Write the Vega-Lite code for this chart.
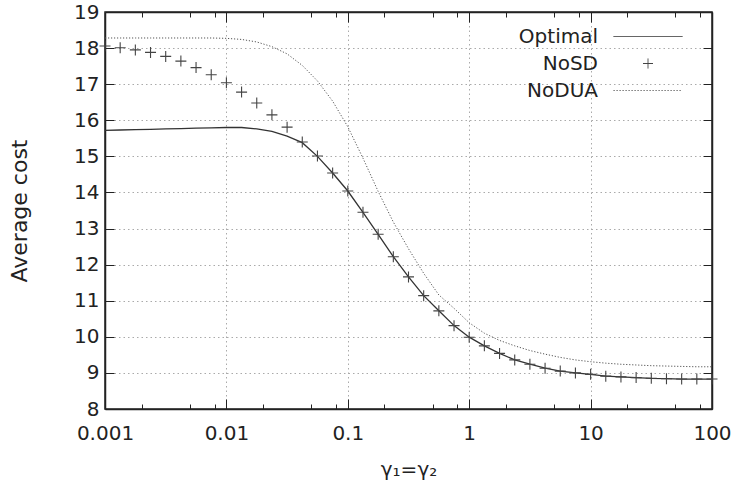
{
  "$schema": "https://vega.github.io/schema/vega-lite/v6.json",
  "width": 607,
  "height": 397,
  "autosize": "none",
  "padding": {"left": 105, "top": 12, "right": 26, "bottom": 82},
  "background": "white",
  "config": {"view": {"stroke": "#222", "strokeWidth": 1.5}, "font": "DejaVu Sans"},
  "datasets": {
    "curves": [
      {"x":0.001,"s":"Optimal","y":15.72},{"x":0.0013335,"s":"Optimal","y":15.73},{"x":0.0017783,"s":"Optimal","y":15.74},{"x":0.0023714,"s":"Optimal","y":15.75},{"x":0.0031623,"s":"Optimal","y":15.76},{"x":0.004217,"s":"Optimal","y":15.77},{"x":0.0056234,"s":"Optimal","y":15.78},{"x":0.0074989,"s":"Optimal","y":15.79},{"x":0.01,"s":"Optimal","y":15.8},{"x":0.013335,"s":"Optimal","y":15.8},{"x":0.017783,"s":"Optimal","y":15.76},{"x":0.023714,"s":"Optimal","y":15.69},{"x":0.031623,"s":"Optimal","y":15.56},{"x":0.04217,"s":"Optimal","y":15.38},{"x":0.056234,"s":"Optimal","y":15.0},{"x":0.074989,"s":"Optimal","y":14.54},{"x":0.1,"s":"Optimal","y":14.04},{"x":0.13335,"s":"Optimal","y":13.45},{"x":0.17783,"s":"Optimal","y":12.84},{"x":0.23714,"s":"Optimal","y":12.22},{"x":0.31623,"s":"Optimal","y":11.66},{"x":0.4217,"s":"Optimal","y":11.14},{"x":0.56234,"s":"Optimal","y":10.72},{"x":0.74989,"s":"Optimal","y":10.31},{"x":1,"s":"Optimal","y":9.99},{"x":1.3335,"s":"Optimal","y":9.75},{"x":1.7783,"s":"Optimal","y":9.54},{"x":2.3714,"s":"Optimal","y":9.36},{"x":3.1623,"s":"Optimal","y":9.24},{"x":4.217,"s":"Optimal","y":9.13},{"x":5.6234,"s":"Optimal","y":9.05},{"x":7.4989,"s":"Optimal","y":9.0},{"x":10,"s":"Optimal","y":8.96},{"x":13.335,"s":"Optimal","y":8.91},{"x":17.783,"s":"Optimal","y":8.89},{"x":23.714,"s":"Optimal","y":8.87},{"x":31.623,"s":"Optimal","y":8.85},{"x":42.17,"s":"Optimal","y":8.84},{"x":56.234,"s":"Optimal","y":8.83},{"x":74.989,"s":"Optimal","y":8.83},{"x":100,"s":"Optimal","y":8.83},
      {"x":0.001,"s":"NoSD","y":18.06},{"x":0.0013335,"s":"NoSD","y":18.01},{"x":0.0017783,"s":"NoSD","y":17.95},{"x":0.0023714,"s":"NoSD","y":17.88},{"x":0.0031623,"s":"NoSD","y":17.77},{"x":0.004217,"s":"NoSD","y":17.64},{"x":0.0056234,"s":"NoSD","y":17.46},{"x":0.0074989,"s":"NoSD","y":17.26},{"x":0.01,"s":"NoSD","y":17.04},{"x":0.013335,"s":"NoSD","y":16.78},{"x":0.017783,"s":"NoSD","y":16.48},{"x":0.023714,"s":"NoSD","y":16.15},{"x":0.031623,"s":"NoSD","y":15.81},{"x":0.04217,"s":"NoSD","y":15.4},{"x":0.056234,"s":"NoSD","y":15.01},{"x":0.074989,"s":"NoSD","y":14.54},{"x":0.1,"s":"NoSD","y":14.04},{"x":0.13335,"s":"NoSD","y":13.45},{"x":0.17783,"s":"NoSD","y":12.84},{"x":0.23714,"s":"NoSD","y":12.22},{"x":0.31623,"s":"NoSD","y":11.66},{"x":0.4217,"s":"NoSD","y":11.14},{"x":0.56234,"s":"NoSD","y":10.72},{"x":0.74989,"s":"NoSD","y":10.31},{"x":1,"s":"NoSD","y":9.99},{"x":1.3335,"s":"NoSD","y":9.75},{"x":1.7783,"s":"NoSD","y":9.54},{"x":2.3714,"s":"NoSD","y":9.36},{"x":3.1623,"s":"NoSD","y":9.24},{"x":4.217,"s":"NoSD","y":9.13},{"x":5.6234,"s":"NoSD","y":9.05},{"x":7.4989,"s":"NoSD","y":9.0},{"x":10,"s":"NoSD","y":8.96},{"x":13.335,"s":"NoSD","y":8.91},{"x":17.783,"s":"NoSD","y":8.89},{"x":23.714,"s":"NoSD","y":8.87},{"x":31.623,"s":"NoSD","y":8.85},{"x":42.17,"s":"NoSD","y":8.84},{"x":56.234,"s":"NoSD","y":8.83},{"x":74.989,"s":"NoSD","y":8.83},{"x":100,"s":"NoSD","y":8.83},
      {"x":0.001,"s":"NoDUA","y":18.28},{"x":0.0013335,"s":"NoDUA","y":18.28},{"x":0.0017783,"s":"NoDUA","y":18.28},{"x":0.0023714,"s":"NoDUA","y":18.28},{"x":0.0031623,"s":"NoDUA","y":18.28},{"x":0.004217,"s":"NoDUA","y":18.28},{"x":0.0056234,"s":"NoDUA","y":18.28},{"x":0.0074989,"s":"NoDUA","y":18.28},{"x":0.01,"s":"NoDUA","y":18.27},{"x":0.013335,"s":"NoDUA","y":18.24},{"x":0.017783,"s":"NoDUA","y":18.17},{"x":0.023714,"s":"NoDUA","y":18.04},{"x":0.031623,"s":"NoDUA","y":17.84},{"x":0.04217,"s":"NoDUA","y":17.52},{"x":0.056234,"s":"NoDUA","y":17.09},{"x":0.074989,"s":"NoDUA","y":16.53},{"x":0.1,"s":"NoDUA","y":15.82},{"x":0.13335,"s":"NoDUA","y":14.95},{"x":0.17783,"s":"NoDUA","y":14.03},{"x":0.23714,"s":"NoDUA","y":13.18},{"x":0.31623,"s":"NoDUA","y":12.44},{"x":0.4217,"s":"NoDUA","y":11.76},{"x":0.56234,"s":"NoDUA","y":11.16},{"x":0.74989,"s":"NoDUA","y":10.79},{"x":1,"s":"NoDUA","y":10.39},{"x":1.3335,"s":"NoDUA","y":10.1},{"x":1.7783,"s":"NoDUA","y":9.9},{"x":2.3714,"s":"NoDUA","y":9.75},{"x":3.1623,"s":"NoDUA","y":9.62},{"x":4.217,"s":"NoDUA","y":9.52},{"x":5.6234,"s":"NoDUA","y":9.43},{"x":7.4989,"s":"NoDUA","y":9.36},{"x":10,"s":"NoDUA","y":9.31},{"x":13.335,"s":"NoDUA","y":9.27},{"x":17.783,"s":"NoDUA","y":9.24},{"x":23.714,"s":"NoDUA","y":9.22},{"x":31.623,"s":"NoDUA","y":9.2},{"x":42.17,"s":"NoDUA","y":9.19},{"x":56.234,"s":"NoDUA","y":9.18},{"x":74.989,"s":"NoDUA","y":9.17},{"x":100,"s":"NoDUA","y":9.17}
    ]
  },
  "data": {"name": "curves"},
  "encoding": {
    "color": {
      "field": "s",
      "type": "nominal",
      "scale": {"domain": ["Optimal", "NoSD", "NoDUA"], "range": ["#333333", "#444444", "#555555"]},
      "legend": {
        "title": null,
        "orient": "none",
        "legendX": 532.5,
        "legendY": 14,
        "padding": 0,
        "rowPadding": 6,
        "symbolSize": 400,
        "labelAlign": "right",
        "labelOffset": -60.5,
        "labelFont": "DejaVu Sans",
        "labelFontSize": 20,
        "labelColor": "#222222",
        "labelLimit": 0,
        "encode": {
          "symbols": {
            "update": {
              "shape": {"signal": "datum.value === 'NoSD' ? 'M-0.5,0H0.5M0,-0.5V0.5' : 'M-3.45,0H3.45'"},
              "strokeDash": {"signal": "datum.value === 'NoDUA' ? [1.2,1.8] : [1,0]"},
              "fill": {"value": "transparent"},
              "stroke": {"value": "#333333"},
              "strokeWidth": {"value": 1},
              "opacity": {"value": 1}
            }
          }
        }
      }
    }
  },
  "layer": [
    {
      "transform": [{"filter": "datum.s === 'Optimal'"}],
      "mark": {"type": "line", "strokeWidth": 1.3},
      "encoding": {
        "x": {
          "field": "x", "type": "quantitative",
          "scale": {"type": "log", "domain": [0.001, 100], "nice": false},
          "axis": {
            "orient": "bottom",
            "values": [0.001,0.002,0.005,0.008,0.01,0.02,0.05,0.08,0.1,0.2,0.5,0.8,1,2,5,8,10,20,50,80,100],
            "labelExpr": "abs(log(datum.value)/LN10 - round(log(datum.value)/LN10)) < 0.001 ? format(datum.value, '~g') : ''",
            "tickSize": {"condition": {"test": "abs(log(datum.value)/LN10 - round(log(datum.value)/LN10)) < 0.001", "value": -10}, "value": -5},
            "tickColor": "#222222",
            "tickWidth": 1,
            "grid": true,
            "gridOpacity": {"condition": {"test": "abs(log(datum.value)/LN10 - round(log(datum.value)/LN10)) < 0.001", "value": 1}, "value": 0},
            "gridColor": "#aaaaaa",
            "gridDash": [1.5, 3],
            "domainColor": "#222222",
            "domainWidth": 1.5,
            "labelFont": "DejaVu Sans",
            "labelFontSize": 20,
            "labelColor": "#222222",
            "labelPadding": 24,
            "labelFlush": false,
            "labelOverlap": false,
            "title": "γ₁=γ₂",
            "titleFont": "DejaVu Sans",
            "titleFontSize": 20,
            "titleFontWeight": "normal",
            "titleColor": "#222222",
            "titlePadding": 11
          }
        },
        "y": {
          "field": "y", "type": "quantitative",
          "scale": {"domain": [8, 19], "nice": false, "zero": false},
          "axis": {
            "orient": "left",
            "values": [8,9,10,11,12,13,14,15,16,17,18,19],
            "tickSize": -9,
            "tickColor": "#222222",
            "grid": true,
            "gridColor": "#aaaaaa",
            "gridDash": [1.5, 3],
            "domainColor": "#222222",
            "domainWidth": 1.5,
            "labelFont": "DejaVu Sans",
            "labelFontSize": 20,
            "labelColor": "#222222",
            "labelPadding": 15,
            "title": "Average cost",
            "titleFont": "DejaVu Sans",
            "titleFontSize": 22,
            "titleFontWeight": "normal",
            "titleColor": "#222222",
            "titlePadding": 42
          }
        }
      }
    },
    {
      "transform": [{"filter": "datum.s === 'NoDUA'"}],
      "mark": {"type": "line", "strokeWidth": 1, "strokeDash": [1.2, 1.8]},
      "encoding": {
        "x": {
          "field": "x", "type": "quantitative",
          "scale": {"type": "log", "domain": [0.001, 100], "nice": false},
          "axis": {
            "orient": "top",
            "values": [0.001,0.002,0.005,0.008,0.01,0.02,0.05,0.08,0.1,0.2,0.5,0.8,1,2,5,8,10,20,50,80,100],
            "labels": false,
            "grid": false,
            "tickSize": {"condition": {"test": "abs(log(datum.value)/LN10 - round(log(datum.value)/LN10)) < 0.001", "value": -10}, "value": -5},
            "tickColor": "#222222",
            "domainColor": "#222222",
            "domainWidth": 1.5,
            "title": null
          }
        },
        "y": {
          "field": "y", "type": "quantitative",
          "scale": {"domain": [8, 19], "nice": false, "zero": false},
          "axis": {
            "orient": "right",
            "values": [8,9,10,11,12,13,14,15,16,17,18,19],
            "labels": false,
            "grid": false,
            "tickSize": -9,
            "tickColor": "#222222",
            "domainColor": "#222222",
            "domainWidth": 1.5,
            "title": null
          }
        }
      }
    },
    {
      "transform": [{"filter": "datum.s === 'NoSD'"}],
      "mark": {"type": "point", "shape": "M-1,0H1M0,-1V1", "size": 121, "filled": false, "strokeWidth": 1.1, "opacity": 1},
      "encoding": {
        "x": {"field": "x", "type": "quantitative", "scale": {"type": "log", "domain": [0.001, 100], "nice": false}, "axis": null},
        "y": {"field": "y", "type": "quantitative", "scale": {"domain": [8, 19], "nice": false, "zero": false}, "axis": null}
      }
    }
  ],
  "resolve": {"axis": {"x": "independent", "y": "independent"}}
}
